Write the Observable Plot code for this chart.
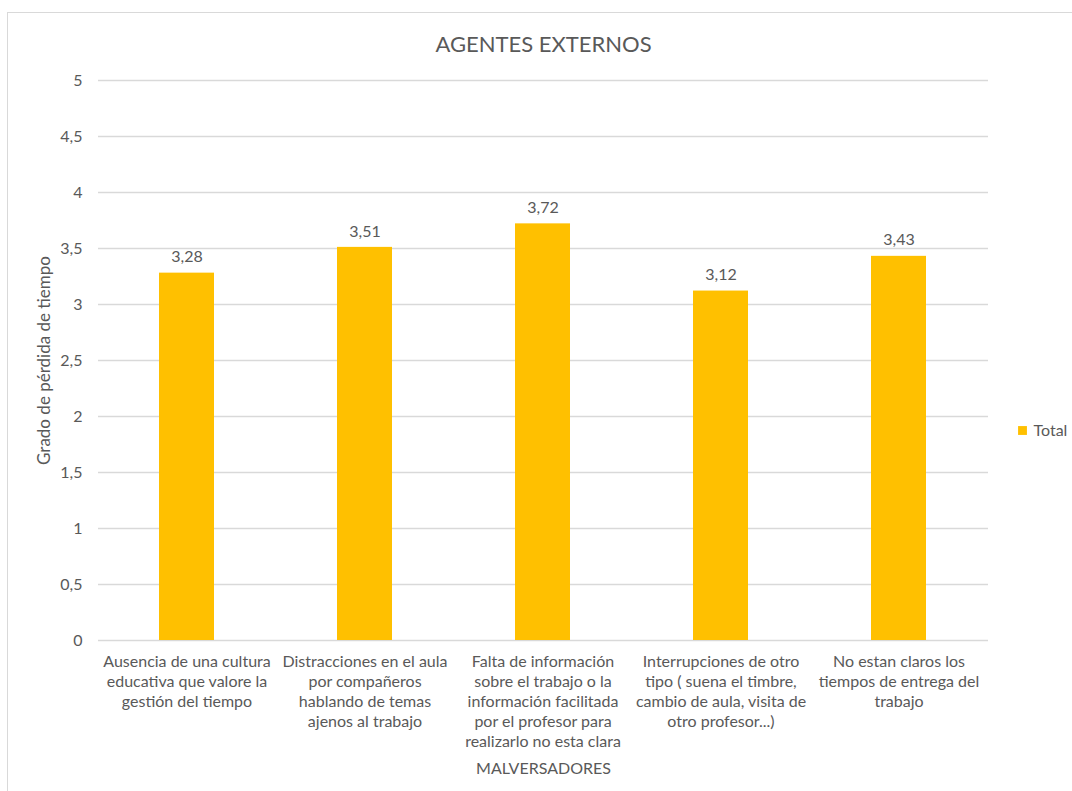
<!DOCTYPE html>
<html>
<head>
<meta charset="utf-8">
<script src="https://cdn.jsdelivr.net/npm/d3@7"></script>
<script src="https://cdn.jsdelivr.net/npm/@observablehq/plot@0.6"></script>
<style>
  html, body { margin: 0; padding: 0; background: #fff; overflow: hidden; }
  #wrap { position: relative; width: 1072px; height: 791px; overflow: hidden; }
  #border { position: absolute; left: 7px; top: 12px; width: 1100px; height: 820px; border: 1px solid #D9D9D9; box-sizing: border-box; }
  #chart { position: absolute; left: 0; top: 0; }
</style>
</head>
<body>
<div id="wrap"><div id="border"></div><div id="chart"></div></div>
<script>
const title = "AGENTES EXTERNOS";
const yLabel = "Grado de pérdida de tiempo";
const xLabel = "MALVERSADORES";
const seriesName = "Total";
const categories = [
  "Ausencia de una cultura\neducativa que valore la\ngestión del tiempo",
  "Distracciones en el aula\npor compañeros\nhablando de temas\najenos al trabajo",
  "Falta de información\nsobre el trabajo o la\ninformación facilitada\npor el profesor para\nrealizarlo no esta clara",
  "Interrupciones de otro\ntipo ( suena el timbre,\ncambio de aula, visita de\notro profesor...)",
  "No estan claros los\ntiempos de entrega del\ntrabajo"
];
const values = [3.28, 3.51, 3.72, 3.12, 3.43];
const yTicks = [0, 0.5, 1, 1.5, 2, 2.5, 3, 3.5, 4, 4.5, 5];

const data = categories.map((c, i) => ({cat: c, val: values[i]}));
const comma = v => String(v).replace(".", ",");
const fmt2 = v => v.toFixed(2).replace(".", ",");
const FONT = "Lato, 'Open Sans', sans-serif";
const TXT = "#595959";
const GOLD = "#FFC000";

const chart = Plot.plot({
  width: 1072,
  height: 791,
  marginTop: 80,
  marginBottom: 151,
  marginLeft: 98,
  marginRight: 84,
  style: {fontFamily: FONT, fontSize: "16px", color: TXT, background: "transparent"},
  x: {domain: categories, paddingInner: 0.69, paddingOuter: 0.345, label: null},
  y: {domain: [0, 5], label: null},
  marks: [
    Plot.gridY(yTicks, {stroke: "#D9D9D9", strokeOpacity: 1, strokeWidth: 1.3}),
    Plot.barY(data, {x: "cat", y: "val", fill: GOLD}),
    Plot.text(data, {x: "cat", y: "val", text: d => fmt2(d.val), dy: -16, fill: TXT, fontSize: 16}),
    Plot.axisY({ticks: yTicks, tickFormat: comma, tickSize: 0, tickPadding: 16, fill: TXT, fontSize: 16, label: null}),
    Plot.axisX({tickSize: 0, tickPadding: 12, fill: TXT, fontSize: 16, lineHeight: 1.25, label: null}),
    Plot.text([title], {frameAnchor: "top", dy: -36, lineAnchor: "middle", fontSize: 22, fill: TXT}),
    Plot.text([yLabel], {frameAnchor: "left", dx: -54, rotate: -90, textAnchor: "middle", lineAnchor: "middle", fontSize: 17, fill: TXT}),
    Plot.text([xLabel], {frameAnchor: "bottom", dy: 128, lineAnchor: "middle", fontSize: 16, fill: TXT}),
    Plot.dot([seriesName], {frameAnchor: "right", dx: 34, dy: 70, symbol: "square", r: 5, fill: GOLD, stroke: null}),
    Plot.text([seriesName], {frameAnchor: "right", dx: 45, dy: 70, textAnchor: "start", lineAnchor: "middle", fontSize: 16, fill: TXT})
  ]
});
document.getElementById("chart").appendChild(chart);
</script>
</body>
</html>
